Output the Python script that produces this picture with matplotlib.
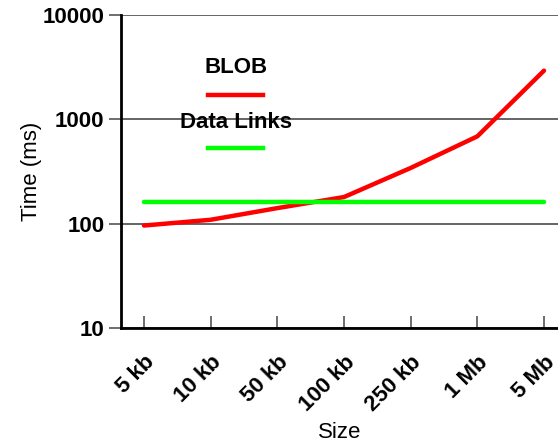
import matplotlib.pyplot as plt
import numpy as np
from matplotlib.lines import Line2D
from matplotlib.ticker import FixedLocator, FuncFormatter, NullLocator

plt.rcParams['font.family'] = ['Liberation Sans', 'DejaVu Sans']

sizes = ["5 kb", "10 kb", "50 kb", "100 kb", "250 kb", "1 Mb", "5 Mb"]
blob = [96, 109, 141, 180, 342, 687, 2930]
data_links = [161, 161, 161, 161, 161, 161, 161]

fig = plt.figure(figsize=(5.58, 4.47), dpi=100)
ax = fig.add_axes([0.2168, 0.2662, 0.7832, 0.7002])

x = np.arange(len(sizes))
ax.plot(x, blob, color="#ff0000", linewidth=3.2, solid_capstyle="round")
ax.plot(x, data_links, color="#00ff00", linewidth=3.2, solid_capstyle="round")

ax.set_yscale("log")
ax.set_ylim(10, 10000)
ax.set_xlim(-0.345, 6.21)
ax.yaxis.set_major_locator(FixedLocator([10, 100, 1000, 10000]))
ax.yaxis.set_minor_locator(NullLocator())
ax.yaxis.set_major_formatter(FuncFormatter(lambda v, p: "%d" % v))
ax.grid(axis="y", color="#4a4a4a", linewidth=1.2)
ax.set_axisbelow(True)

ax.set_xticks(x)
ax.set_xticklabels(sizes, rotation=45, ha="right", rotation_mode="anchor",
                   fontsize=16, fontweight="bold")
for lab in ax.get_yticklabels():
    lab.set_fontsize(16)
    lab.set_fontweight("bold")

ax.tick_params(axis="y", direction="out", length=9, width=1.2, pad=3, color="#555555")
ax.tick_params(axis="x", direction="in", length=9, width=1.2, pad=17, color="#555555")

for s in ["top", "right"]:
    ax.spines[s].set_visible(False)
ax.spines["left"].set_linewidth(2)
ax.spines["bottom"].set_linewidth(2)

ax.set_ylabel("Time (ms)", fontsize=16, labelpad=0)
ax.set_xlabel("Size", fontsize=16, labelpad=5)

# legend: label above its line sample
ax.text(0.263, 0.831, "BLOB", transform=ax.transAxes, ha="center", va="center",
        fontsize=16, fontweight="bold")
ax.add_line(Line2D([0.199, 0.325], [0.744, 0.744], transform=ax.transAxes,
                   color="#ff0000", linewidth=3.2))
ax.text(0.263, 0.658, "Data Links", transform=ax.transAxes, ha="center", va="center",
        fontsize=16, fontweight="bold")
ax.add_line(Line2D([0.199, 0.325], [0.575, 0.575], transform=ax.transAxes,
                   color="#00ff00", linewidth=3.2))

fig.savefig("out.png", dpi=100)
